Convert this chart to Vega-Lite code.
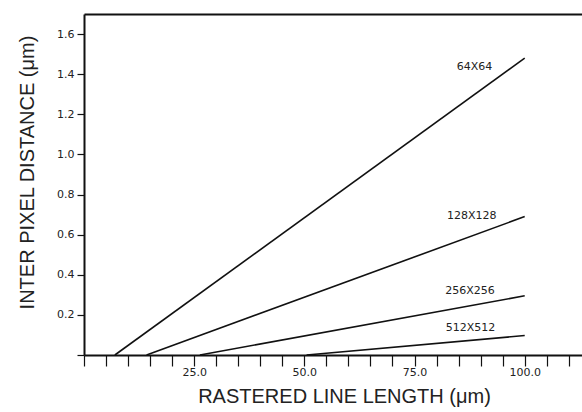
{
  "$schema": "https://vega.github.io/schema/vega-lite/v6.json",
  "autosize": {"type": "none"},
  "padding": {"left": 84, "top": 14, "right": 0, "bottom": 57},
  "width": 498,
  "height": 341,
  "background": "white",
  "config": {
    "view": {"stroke": null},
    "font": "DejaVu Sans",
    "axis": {
      "domainColor": "#111",
      "domainWidth": 2,
      "tickColor": "#111",
      "tickWidth": 1.2,
      "labelColor": "#222",
      "titleColor": "#222",
      "labelFont": "DejaVu Sans",
      "titleFont": "Liberation Sans",
      "titleFontWeight": "normal",
      "grid": false
    }
  },
  "datasets": {
    "lines": [
      {"series": "64X64", "length": 7, "distance": 0},
      {"series": "64X64", "length": 100, "distance": 1.48},
      {"series": "128X128", "length": 14.2, "distance": 0},
      {"series": "128X128", "length": 100, "distance": 0.69},
      {"series": "256X256", "length": 26.3, "distance": 0},
      {"series": "256X256", "length": 100, "distance": 0.295},
      {"series": "512X512", "length": 50.5, "distance": 0},
      {"series": "512X512", "length": 100, "distance": 0.097}
    ],
    "labels": [
      {"series": "64X64", "length": 88.6, "distance": 1.436},
      {"series": "128X128", "length": 88, "distance": 0.693},
      {"series": "256X256", "length": 87.6, "distance": 0.319},
      {"series": "512X512", "length": 87.7, "distance": 0.135}
    ]
  },
  "resolve": {"axis": {"x": "independent"}},
  "layer": [
    {
      "data": {"name": "lines"},
      "mark": {"type": "line", "color": "#111", "strokeWidth": 1.6},
      "encoding": {
        "x": {
          "field": "length",
          "type": "quantitative",
          "scale": {"domain": [0, 113], "nice": false},
          "axis": {
            "orient": "bottom",
            "values": [0, 5, 10, 15, 20, 25, 30, 35, 40, 45, 50, 55, 60, 65, 70, 75, 80, 85, 90, 95, 100, 105, 110],
            "labelExpr": "datum.value > 0 && datum.value % 25 == 0 ? format(datum.value, '.1f') : ''",
            "tickSize": 11,
            "labelPadding": 0,
            "labelFontSize": 11,
            "labelFlush": false,
            "labelOverlap": false,
            "title": "RASTERED LINE LENGTH (μm)",
            "titleFontSize": 20,
            "titleX": 260,
            "titleY": 47,
            "titleBaseline": "alphabetic",
            "titleAlign": "center"
          }
        },
        "y": {
          "field": "distance",
          "type": "quantitative",
          "scale": {"domain": [0, 1.7], "nice": false},
          "axis": {
            "values": [0, 0.2, 0.4, 0.6, 0.8, 1.0, 1.2, 1.4, 1.6],
            "labelExpr": "datum.value > 0 ? format(datum.value, '.1f') : ''",
            "tickSize": 7,
            "labelPadding": 3,
            "labelFontSize": 11,
            "title": "INTER PIXEL DISTANCE (μm)",
            "titleFontSize": 20,
            "titleX": -51,
            "titleY": 158,
            "titleBaseline": "alphabetic",
            "titleAlign": "center",
            "titleAngle": -90
          }
        },
        "detail": {"field": "series"}
      }
    },
    {
      "data": {"name": "labels"},
      "mark": {"type": "text", "fontSize": 11, "font": "DejaVu Sans", "color": "#222", "align": "center", "baseline": "middle"},
      "encoding": {
        "x": {
          "field": "length",
          "type": "quantitative",
          "scale": {"domain": [0, 113], "nice": false},
          "axis": {"orient": "top", "labels": false, "ticks": false, "title": null, "domainWidth": 2}
        },
        "y": {"field": "distance", "type": "quantitative"},
        "text": {"field": "series"}
      }
    }
  ]
}
